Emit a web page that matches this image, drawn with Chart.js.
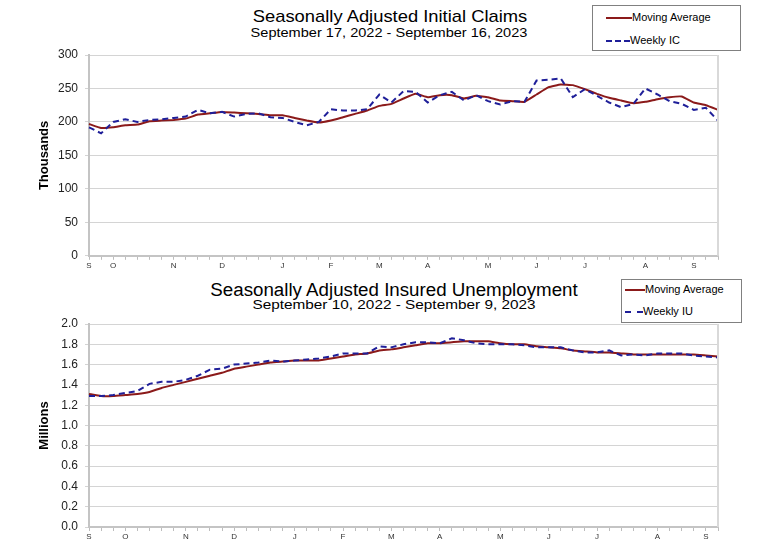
<!DOCTYPE html>
<html>
<head>
    <title>Seasonally Adjusted Claims</title>
    <script src="https://cdn.jsdelivr.net/npm/chart.js@4/dist/chart.umd.min.js"></script>
    <style>
        body {
            margin: 0;
            width: 757px;
            height: 558px;
            position: relative;
            background: #fff;
            font-family: "Liberation Sans", Arial, sans-serif;
            overflow: hidden;
        }
        .box {
            position: absolute;
            left: 0;
            width: 757px;
        }
        .title {
            position: absolute;
            text-align: center;
            color: #000;
            white-space: nowrap;
            line-height: 1;
        }
        .legend {
            position: absolute;
            border: 1px solid #808080;
            background: #fff;
            font-size: 11px;
            color: #000;
        }
        .legend .row {
            position: absolute;
            left: 0;
            white-space: nowrap;
        }
        .legend .solid {
            display: inline-block;
            vertical-align: middle;
            border-top: 2px solid #8b1a1a;
        }
        .legend .dash {
            display: inline-block;
            vertical-align: middle;
            border-top: 2px dashed #1f1f99;
        }
    </style>
</head>
<body>
    <div class="title" style="left:190px; width:400px; top:8px; font-size:17px; transform:scaleX(1.08);">Seasonally Adjusted Initial Claims</div>
    <div class="title" style="left:189px; width:400px; top:26px; font-size:13px; transform:scaleX(1.12);">September 17, 2022 - September 16, 2023</div>
    <div class="legend" style="left:592px; top:5px; width:147px; height:44px;">
        <div class="row" style="top:5px; left:13px;"><span class="solid" style="width:26px;"></span>Moving Average</div>
        <div class="row" style="top:28px; left:13px;"><span class="dash" style="width:24px;"></span>Weekly IC</div>
    </div>

    <div class="title" style="left:144px; width:500px; top:281px; font-size:18px; transform:scaleX(1.04);">Seasonally Adjusted Insured Unemployment</div>
    <div class="title" style="left:144px; width:500px; top:298px; font-size:13px; transform:scaleX(1.18);">September 10, 2022 - September 9, 2023</div>
    <div class="legend" style="left:621px; top:279px; width:119px; height:42px;">
        <div class="row" style="top:3px; left:3px;"><span class="solid" style="width:20px;"></span>Moving Average</div>
        <div class="row" style="top:25px; left:3px;"><span class="dash" style="width:18px;"></span>Weekly IU</div>
    </div>

    <div class="box" style="top:0; height:270px;"><canvas id="claimsChart"></canvas></div>
    <div class="box" style="top:270px; height:288px;"><canvas id="insuredChart"></canvas></div>

    <script>
        // weekly initial claims, thousands (Sep 17, 2022 - Sep 16, 2023)
        const weeklyIC = [192, 183, 200, 204, 200, 203, 204, 206, 208, 218, 213, 215, 208, 212, 213, 207,
            206, 200, 195, 200, 219, 217, 217, 219, 241, 229, 246, 245, 229, 240, 245, 232,
            240, 231, 226, 231, 230, 262, 263, 265, 237, 249, 239, 229, 222, 227, 250, 241,
            231, 227, 218, 221, 202];
        const claimsAvg = [197, 191, 192, 195, 196, 201, 202, 203, 205, 211, 213, 215, 214, 213, 212, 210,
            210, 206, 202, 199, 202, 207, 212, 217, 224, 227, 235, 242, 237, 240, 240, 235,
            239, 237, 232, 231, 230, 241, 252, 256, 255, 249, 242, 236, 232, 228, 230, 234,
            237, 238, 229, 225, 218];

        // weekly insured unemployment, millions (Sep 10, 2022 - Sep 9, 2023)
        const weeklyIU = [1.29, 1.29, 1.30, 1.32, 1.34, 1.41, 1.43, 1.43, 1.45, 1.49, 1.55, 1.56, 1.60, 1.61, 1.62, 1.64,
            1.63, 1.64, 1.65, 1.66, 1.68, 1.71, 1.71, 1.71, 1.78, 1.77, 1.80, 1.82, 1.82, 1.81, 1.86, 1.84,
            1.81, 1.80, 1.80, 1.80, 1.79, 1.77, 1.77, 1.77, 1.74, 1.72, 1.72, 1.74, 1.69, 1.70, 1.69, 1.71,
            1.71, 1.71, 1.69, 1.68, 1.67];
        const insuredAvg = [1.31, 1.29, 1.29, 1.30, 1.31, 1.33, 1.37, 1.40, 1.43, 1.46, 1.49, 1.52, 1.56, 1.58, 1.60, 1.62,
            1.63, 1.64, 1.64, 1.64, 1.66, 1.68, 1.70, 1.71, 1.74, 1.75, 1.77, 1.79, 1.81, 1.81, 1.82, 1.83,
            1.83, 1.83, 1.81, 1.80, 1.80, 1.78, 1.77, 1.76, 1.74, 1.73, 1.72, 1.72, 1.71, 1.70, 1.70, 1.70,
            1.70, 1.70, 1.70, 1.69, 1.68];

        // month letters and the week they fall on
        const monthLetters = ['S', 'O', 'N', 'D', 'J', 'F', 'M', 'A', 'M', 'J', 'J', 'A', 'S'];
        const claimsMonthWeek = [0, 2, 7, 11, 16, 20, 24, 28, 33, 37, 41, 46, 50];
        const insuredMonthWeek = [0, 3, 8, 12, 17, 21, 25, 29, 34, 38, 42, 47, 51];

        function weekLabels(count, weeks) {
            const labels = new Array(count).fill('');
            weeks.forEach((w, i) => { labels[w] = monthLetters[i]; });
            return labels;
        }

        const rightEdge = {
            id: 'rightEdge',
            afterDraw(chart) {
                const a = chart.chartArea;
                const ctx = chart.ctx;
                ctx.save();
                ctx.strokeStyle = '#d9d9d9';
                ctx.lineWidth = 2;
                ctx.beginPath();
                ctx.moveTo(a.right, a.top);
                ctx.lineTo(a.right, a.bottom);
                ctx.stroke();
                ctx.restore();
            }
        };

        function makeChart(id, labels, weekly, avg, yMax, yStep, yTitle, digits, pad, xHeight) {
            const ctx = document.getElementById(id).getContext('2d');
            return new Chart(ctx, {
                type: 'line',
                data: {
                    labels: labels,
                    datasets: [{
                        label: 'Weekly',
                        data: weekly,
                        borderColor: '#1f1f99',
                        borderWidth: 2,
                        borderDash: [6, 4],
                        pointRadius: 0,
                        tension: 0,
                        fill: false
                    }, {
                        label: 'Moving Average',
                        data: avg,
                        borderColor: '#8b1a1a',
                        borderWidth: 2,
                        pointRadius: 0,
                        tension: 0.1,
                        fill: false
                    }]
                },
                options: {
                    responsive: true,
                    maintainAspectRatio: false,
                    animation: false,
                    layout: { padding: pad },
                    plugins: {
                        legend: { display: false },
                        tooltip: { enabled: false }
                    },
                    scales: {
                        x: {
                            afterFit: s => { s.height = xHeight; },
                            grid: {
                                drawOnChartArea: false,
                                tickLength: 4,
                                color: '#bdbdbd'
                            },
                            border: { color: '#c4c4c4', width: 2 },
                            ticks: {
                                autoSkip: false,
                                maxRotation: 0,
                                padding: 1,
                                color: '#333',
                                font: { family: 'Liberation Sans', size: 8 }
                            }
                        },
                        y: {
                            min: 0,
                            max: yMax,
                            afterFit: s => { s.width = 89; },
                            grid: { color: '#d4d4d4', tickLength: 4 },
                            border: { color: '#c4c4c4', width: 2 },
                            ticks: {
                                stepSize: yStep,
                                padding: 7,
                                color: '#222',
                                font: { family: 'Liberation Sans', size: 12 },
                                callback: v => v.toFixed(digits)
                            },
                            title: {
                                display: true,
                                text: yTitle,
                                color: '#000',
                                padding: { top: 37, bottom: 0 },
                                font: { family: 'Liberation Sans', size: 13, weight: 'bold' }
                            }
                        }
                    }
                },
                plugins: [rightEdge]
            });
        }

        makeChart('claimsChart', weekLabels(weeklyIC.length, claimsMonthWeek), weeklyIC, claimsAvg,
            300, 50, 'Thousands', 0, { top: 55, right: 39, left: 0, bottom: 0 }, 13);
        makeChart('insuredChart', weekLabels(weeklyIU.length, insuredMonthWeek), weeklyIU, insuredAvg,
            2.0, 0.2, 'Millions', 1, { top: 54, right: 39, left: 0, bottom: 11 }, 20);
    </script>
</body>
</html>
